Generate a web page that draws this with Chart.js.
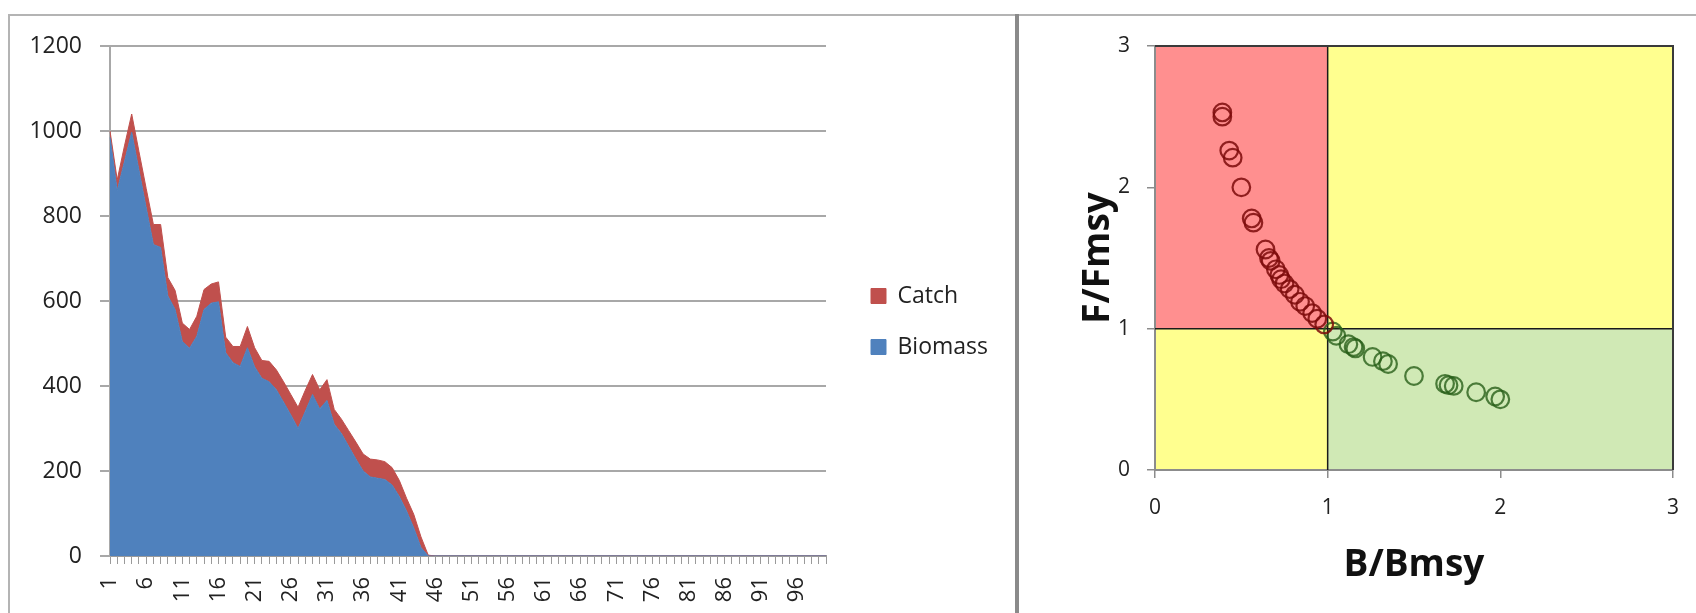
<!DOCTYPE html>
<html>
<head>
<meta charset="utf-8">
<script src="https://cdn.jsdelivr.net/npm/chart.js@4.4.1/dist/chart.umd.min.js"></script>
<style>
html,body{margin:0;padding:0;background:#fff;width:1696px;height:613px;overflow:hidden;}
#left{position:absolute;left:0;top:0;}
#right{position:absolute;left:1020px;top:0;}
.frame{position:absolute;pointer-events:none;}
</style>
</head>
<body>
<canvas id="left" width="1015" height="613"></canvas>
<canvas id="right" width="676" height="613"></canvas>
<div class="frame" style="left:9px;top:14px;width:1687px;height:2px;background:#b4b4b4"></div>
<div class="frame" style="left:8px;top:14px;width:2px;height:599px;background:#b4b4b4"></div>
<div class="frame" style="left:1015px;top:14px;width:4px;height:599px;background:#8a8a8a"></div>
<script>
// ---------- Left chart: stacked area (Biomass + Catch) ----------
const years = [1,2,3,4,5,6,7,8,9,10,11,12,13,14,15,16,17,18,19,20,
  21,22,23,24,25,26,27,28,29,30,31,32,33,34,35,36,37,38,39,40,
  41,42,43,44,45,46,47,48,49,50,51,52,53,54,55,56,57,58,59,60,
  61,62,63,64,65,66,67,68,69,70,71,72,73,74,75,76,77,78,79,80,
  81,82,83,84,85,86,87,88,89,90,91,92,93,94,95,96,97,98,99,100];

const biomass = [985,860,928,997,908,820,733,726,612,580,
  505,489,517,580,595,598,478,455,446,490,
  445,418,410,391,362,332,300,340,380,346,
  366,310,288,258,228,200,186,183,180,167,
  140,106,66,20,0,0,0,0,0,0,
  0,0,0,0,0,0,0,0,0,0,
  0,0,0,0,0,0,0,0,0,0,
  0,0,0,0,0,0,0,0,0,0,
  0,0,0,0,0,0,0,0,0,0,
  0,0,0,0,0,0,0,0,0,0];

const catchTonnes = [15,25,37,43,44,45,47,54,43,45,
  43,44,47,47,45,47,37,38,47,50,
  45,42,48,47,48,48,50,50,47,45,
  49,35,34,37,40,40,42,43,42,41,
  38,30,32,25,2,0,0,0,0,0,
  0,0,0,0,0,0,0,0,0,0,
  0,0,0,0,0,0,0,0,0,0,
  0,0,0,0,0,0,0,0,0,0,
  0,0,0,0,0,0,0,0,0,0,
  0,0,0,0,0,0,0,0,0,0];

const yAxisMin = 0, yAxisMax = 1200, yAxisStep = 200;
const tickLabelEvery = 5;

// ---------- Right chart: Kobe plot ----------
const redB = [0.39,0.39,0.43,0.45,0.50,0.56,0.57,0.64,0.66,0.67,0.70,0.72,0.73,0.75,0.78,0.81,0.84,0.87,0.91,0.94,0.98];
const redF = [2.53,2.50,2.26,2.21,2.00,1.78,1.75,1.56,1.50,1.48,1.42,1.38,1.35,1.32,1.28,1.24,1.19,1.16,1.11,1.07,1.03];
const greenB = [1.03,1.05,1.12,1.15,1.16,1.26,1.32,1.35,1.50,1.68,1.70,1.73,1.86,1.97,2.00];
const greenF = [0.98,0.95,0.89,0.87,0.86,0.80,0.77,0.75,0.665,0.61,0.60,0.595,0.55,0.52,0.50];
const kobeMin = 0, kobeMax = 3, kobeStep = 1;
const bRef = 1, fRef = 1;

const FONT = 'Open Sans';
const TXT = '#222';

// let the rotated x labels run to the canvas bottom (labels are clipped to the scale box)
const extendXLabelArea = {
  id: 'extendXLabelArea',
  afterLayout(chart) { chart.scales.x.bottom = chart.height; }
};

new Chart(document.getElementById('left'), {
  type: 'line',
  data: {
    labels: years,
    datasets: [
      { label: 'Biomass', data: biomass, backgroundColor: '#4F81BD', borderColor: '#4F81BD',
        borderWidth: 1, fill: 'origin', pointRadius: 0, tension: 0 },
      { label: 'Catch', data: catchTonnes, backgroundColor: '#C0504D', borderColor: '#C0504D',
        borderWidth: 1, fill: '-1', pointRadius: 0, tension: 0 }
    ]
  },
  options: {
    responsive: false, animation: false, devicePixelRatio: 1,
    layout: { padding: { top: 46, left: 0, right: 17, bottom: 16 } },
    plugins: {
      legend: {
        position: 'right', reverse: true, align: 'center',
        labels: { boxWidth: 15, boxHeight: 15, padding: 28, color: TXT,
                  font: { family: FONT, size: 23 } }
      },
      tooltip: { enabled: false }
    },
    scales: {
      x: {
        grid: { drawOnChartArea: false, drawTicks: true, tickLength: 8, color: '#9a9a9a', lineWidth: 1 },
        border: { color: '#9a9a9a', width: 2 },
        ticks: { autoSkip: false, maxRotation: 90, minRotation: 90, padding: 13, color: TXT,
                 font: { family: FONT, size: 22 },
                 callback: (v, i) => (i % tickLabelEvery === 0 ? String(years[i]) : '') },
        afterFit: s => { s.height = 41; }
      },
      y: {
        stacked: true, min: yAxisMin, max: yAxisMax,
        ticks: { stepSize: yAxisStep, padding: 18, color: TXT, font: { family: FONT, size: 23 },
                 callback: v => String(v) },
        grid: { color: '#a8a8a8', lineWidth: 2, tickLength: 10 },
        border: { color: '#a8a8a8', width: 2 },
        afterFit: s => { s.width = 110; }
      },
      gap: {
        type: 'linear', position: 'right', display: true,
        grid: { display: false }, ticks: { display: false }, border: { display: false },
        afterFit: s => { s.width = 17; }
      }
    }
  },
  plugins: [extendXLabelArea]
});

const quadrants = {
  id: 'quadrants',
  beforeDraw(chart) {
    const { ctx, chartArea: a, scales: { x, y } } = chart;
    const bx = x.getPixelForValue(bRef), fy = y.getPixelForValue(fRef);
    ctx.save();
    ctx.fillStyle = 'rgb(255,143,143)'; ctx.fillRect(a.left, a.top, bx - a.left, fy - a.top);
    ctx.fillStyle = 'rgb(255,255,143)'; ctx.fillRect(bx, a.top, a.right - bx, fy - a.top);
    ctx.fillRect(a.left, fy, bx - a.left, a.bottom - fy);
    ctx.fillStyle = 'rgb(208,233,181)'; ctx.fillRect(bx, fy, a.right - bx, a.bottom - fy);
    ctx.restore();
  },
  beforeDatasetsDraw(chart) {
    const { ctx, chartArea: a, scales: { x, y } } = chart;
    const bx = x.getPixelForValue(bRef), fy = y.getPixelForValue(fRef);
    ctx.save();
    ctx.strokeStyle = '#1a1a1a'; ctx.lineWidth = 1.5;
    ctx.beginPath();
    ctx.moveTo(bx, a.top); ctx.lineTo(bx, a.bottom);
    ctx.moveTo(a.left, fy); ctx.lineTo(a.right, fy);
    ctx.stroke();
    ctx.strokeStyle = '#3a3a3a'; ctx.lineWidth = 2;
    ctx.beginPath();
    ctx.moveTo(a.left, a.top); ctx.lineTo(a.right, a.top); ctx.lineTo(a.right, a.bottom);
    ctx.stroke();
    ctx.restore();
  }
};

new Chart(document.getElementById('right'), {
  type: 'scatter',
  data: {
    datasets: [
      { label: 'F > Fmsy', data: redB.map((b, i) => ({ x: b, y: redF[i] })),
        pointRadius: 8.8, pointBorderWidth: 2.2, pointBackgroundColor: 'rgba(0,0,0,0)',
        pointBorderColor: 'rgba(125,10,10,0.85)' },
      { label: 'F < Fmsy', data: greenB.map((b, i) => ({ x: b, y: greenF[i] })),
        pointRadius: 8.8, pointBorderWidth: 2.2, pointBackgroundColor: 'rgba(0,0,0,0)',
        pointBorderColor: 'rgba(40,95,25,0.8)' }
    ]
  },
  options: {
    responsive: false, animation: false, devicePixelRatio: 1,
    layout: { padding: { top: 46, right: 16, bottom: 0, left: 0 } },
    plugins: { legend: { display: false }, tooltip: { enabled: false } },
    scales: {
      x: {
        type: 'linear', min: kobeMin, max: kobeMax,
        ticks: { stepSize: kobeStep, padding: 17, color: TXT, font: { family: FONT, size: 21 } },
        grid: { drawOnChartArea: false, tickLength: 8, color: '#8c8c8c', lineWidth: 1.5 },
        border: { color: '#8c8c8c', width: 2 },
        title: { display: true, text: 'B/Bmsy', color: '#111',
                 font: { family: FONT, size: 37, weight: 'bold' }, padding: { top: 0, bottom: 25 } },
        afterFit: s => { s.height = 143; }
      },
      y: {
        type: 'linear', min: kobeMin, max: kobeMax,
        ticks: { stepSize: kobeStep, padding: 17, color: TXT, font: { family: FONT, size: 21 } },
        grid: { drawOnChartArea: false, tickLength: 8, color: '#8c8c8c', lineWidth: 1.5 },
        border: { color: '#8c8c8c', width: 2 },
        title: { display: true, text: 'F/Fmsy', color: '#111',
                 font: { family: FONT, size: 37, weight: 'bold' }, padding: { top: 56, bottom: 0 } },
        afterFit: s => { s.width = 135; }
      }
    }
  },
  plugins: [quadrants]
});
</script>
</body>
</html>
